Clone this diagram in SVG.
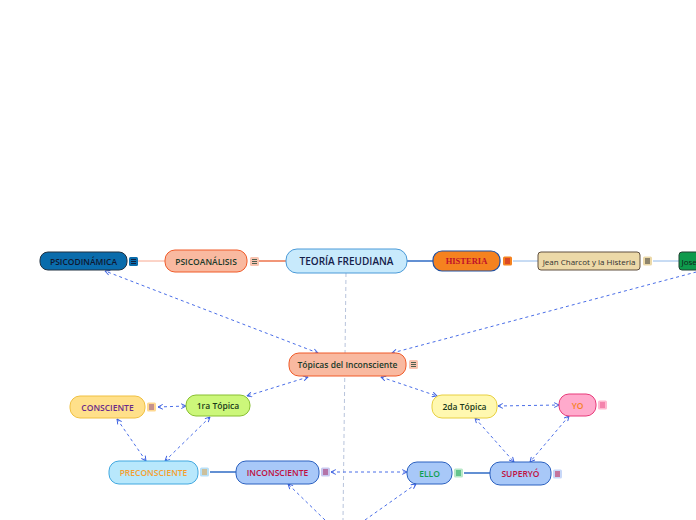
<svg xmlns="http://www.w3.org/2000/svg" width="696" height="520" viewBox="0 0 696 520">
<defs>
<marker id="ar" viewBox="0 0 10 10" refX="9" refY="5" markerWidth="6" markerHeight="6" orient="auto-start-reverse" markerUnits="userSpaceOnUse">
<path d="M1,1 L9,5 L1,9" fill="none" stroke="#3a5ee0" stroke-width="1.6"/>
</marker>
</defs>
<style>
text{font-family:"Open Sans","Noto Sans","Liberation Sans",sans-serif;font-size:8.5px;font-weight:600;text-anchor:middle;dominant-baseline:central}
.dash{fill:none;stroke:#4a6ee8;stroke-width:1;stroke-dasharray:3,3}
.ic line{stroke-width:1}
</style>
<rect width="696" height="520" fill="#ffffff"/>
<g id="connectors">
<line x1="346" y1="273" x2="343" y2="520" stroke="#b8c4dc" stroke-width="1" stroke-dasharray="4,3"/>
<line x1="138" y1="261" x2="165" y2="261" stroke="#f8a890" stroke-width="1"/>
<line x1="259" y1="261" x2="286" y2="261" stroke="#e8501e" stroke-width="1.2"/>
<line x1="407" y1="261" x2="433" y2="261" stroke="#2060c0" stroke-width="1.4"/>
<line x1="513" y1="261" x2="538" y2="261" stroke="#90b8e8" stroke-width="1"/>
<line x1="653" y1="261" x2="679" y2="261" stroke="#90b8e8" stroke-width="1"/>
<line x1="210" y1="472" x2="236" y2="472" stroke="#2060c0" stroke-width="1.4"/>
<line x1="464" y1="473" x2="490" y2="473" stroke="#2060c0" stroke-width="1.4"/>
<line class="dash" x1="318" y1="353" x2="105" y2="271" marker-start="url(#ar)" marker-end="url(#ar)"/>
<line class="dash" x1="392" y1="353" x2="700" y2="271" marker-start="url(#ar)"/>
<line class="dash" x1="308" y1="377" x2="247" y2="396" marker-start="url(#ar)" marker-end="url(#ar)"/>
<line class="dash" x1="381" y1="377" x2="437" y2="396" marker-start="url(#ar)" marker-end="url(#ar)"/>
<line class="dash" x1="158" y1="407" x2="186" y2="406" marker-start="url(#ar)" marker-end="url(#ar)"/>
<line class="dash" x1="498" y1="406" x2="559" y2="405" marker-start="url(#ar)" marker-end="url(#ar)"/>
<line class="dash" x1="117" y1="419" x2="146" y2="461" marker-start="url(#ar)" marker-end="url(#ar)"/>
<line class="dash" x1="210" y1="417" x2="165" y2="461" marker-start="url(#ar)" marker-end="url(#ar)"/>
<line class="dash" x1="475" y1="418" x2="514" y2="462" marker-start="url(#ar)" marker-end="url(#ar)"/>
<line class="dash" x1="569" y1="416" x2="530" y2="462" marker-start="url(#ar)" marker-end="url(#ar)"/>
<line class="dash" x1="331" y1="472" x2="407" y2="472" marker-start="url(#ar)" marker-end="url(#ar)"/>
<line class="dash" x1="325" y1="520" x2="288" y2="484" marker-end="url(#ar)"/>
<line class="dash" x1="365" y1="520" x2="416" y2="484" marker-end="url(#ar)"/>
</g>
<g id="n-psicodinamica">
<rect x="40" y="252" width="87" height="18" rx="8" fill="#0a6cac" stroke="#203040" stroke-width="1"/>
<text x="83.5" y="261" fill="#101830">PSICODINÁMICA</text>
<g class="ic"><rect x="129" y="257" width="9" height="9" rx="1.5" fill="#0a6cac"/><line x1="131" y1="259.5" x2="136" y2="259.5" stroke="#102040"/><line x1="131" y1="261.5" x2="136" y2="261.5" stroke="#102040"/><line x1="131" y1="263.5" x2="136" y2="263.5" stroke="#102040"/></g>
</g>
<g id="n-psicoanalisis">
<rect x="165" y="250" width="82" height="22" rx="10" fill="#f9b9a0" stroke="#f05a28" stroke-width="1"/>
<text x="206" y="261" fill="#1a3a2a">PSICOANÁLISIS</text>
<g class="ic"><rect x="250" y="257" width="9" height="9" rx="1.5" fill="#f9c4b0"/><line x1="252" y1="259.5" x2="257" y2="259.5" stroke="#506050"/><line x1="252" y1="261.5" x2="257" y2="261.5" stroke="#506050"/><line x1="252" y1="263.5" x2="257" y2="263.5" stroke="#506050"/></g>
</g>
<g id="n-teoria">
<rect x="286" y="249" width="121" height="24" rx="11" fill="#c8eafc" stroke="#4a9ad8" stroke-width="1"/>
<text x="346.5" y="261" fill="#14204a" style="font-size:10px">TEORÍA FREUDIANA</text>
</g>
<g id="n-histeria">
<rect x="433" y="251" width="67" height="20" rx="9" fill="#f5821f" stroke="#2050a0" stroke-width="1.2"/>
<text x="466.5" y="261" fill="#c0102a" style="font-family:'Liberation Serif',serif;font-weight:bold">HISTERIA</text>
<g class="ic"><rect x="503" y="256.5" width="9" height="9" rx="1.5" fill="#f5821f"/><line x1="505" y1="259" x2="510" y2="259" stroke="#c0102a"/><line x1="505" y1="261" x2="510" y2="261" stroke="#c0102a"/><line x1="505" y1="263" x2="510" y2="263" stroke="#c0102a"/></g>
</g>
<g id="n-charcot">
<rect x="538" y="252" width="102" height="18" rx="3" fill="#ecd9a8" stroke="#605040" stroke-width="1"/>
<text x="589" y="261" fill="#303030" style="font-weight:normal;font-size:8px">Jean Charcot y la Histeria</text>
<g class="ic"><rect x="643" y="256.5" width="9" height="9" rx="1.5" fill="#ecd9a8"/><line x1="645" y1="259" x2="650" y2="259" stroke="#303030"/><line x1="645" y1="261" x2="650" y2="261" stroke="#303030"/><line x1="645" y1="263" x2="650" y2="263" stroke="#303030"/></g>
</g>
<g id="n-jose">
<rect x="679" y="252" width="40" height="18" rx="3" fill="#0e9a4c" stroke="#204030" stroke-width="1"/>
<text x="681.5" y="261" fill="#102018" style="text-anchor:start;font-weight:normal;font-size:8px">Jose</text>
</g>
<g id="n-topicas">
<rect x="289" y="353" width="117" height="23" rx="10" fill="#f9b9a0" stroke="#f05a28" stroke-width="1"/>
<text x="347.5" y="364.5" fill="#1a3a2a">Tópicas del Inconsciente</text>
<g class="ic"><rect x="409" y="360" width="9" height="9" rx="1.5" fill="#f9c4b0"/><line x1="411" y1="362.5" x2="416" y2="362.5" stroke="#506050"/><line x1="411" y1="364.5" x2="416" y2="364.5" stroke="#506050"/><line x1="411" y1="366.5" x2="416" y2="366.5" stroke="#506050"/></g>
</g>
<g id="n-1ra">
<rect x="186" y="395" width="64" height="21" rx="10" fill="#ccf77a" stroke="#88c030" stroke-width="1"/>
<text x="218" y="405.5" fill="#1a3a1a">1ra Tópica</text>
</g>
<g id="n-consciente">
<rect x="70" y="396" width="75" height="22" rx="10" fill="#ffe08a" stroke="#f0c040" stroke-width="1"/>
<text x="107.5" y="407" fill="#6a2a8a">CONSCIENTE</text>
<g class="ic"><rect x="147" y="402.5" width="9" height="9" rx="1.5" fill="#ffd890"/><line x1="149" y1="405" x2="154" y2="405" stroke="#8a4a8a"/><line x1="149" y1="407" x2="154" y2="407" stroke="#8a4a8a"/><line x1="149" y1="409" x2="154" y2="409" stroke="#8a4a8a"/></g>
</g>
<g id="n-2da">
<rect x="432" y="395" width="65" height="23" rx="10" fill="#fff8b0" stroke="#e8d040" stroke-width="1"/>
<text x="464.5" y="406.5" fill="#1a3a1a">2da Tópica</text>
</g>
<g id="n-yo">
<rect x="559" y="394" width="37" height="22" rx="10" fill="#ffaacc" stroke="#e83a7a" stroke-width="1"/>
<text x="577.5" y="405" fill="#f5821f">YO</text>
<g class="ic"><rect x="598" y="400.5" width="9" height="9" rx="1.5" fill="#ffb8d0"/><line x1="600" y1="403" x2="605" y2="403" stroke="#e8508a"/><line x1="600" y1="405" x2="605" y2="405" stroke="#e8508a"/><line x1="600" y1="407" x2="605" y2="407" stroke="#e8508a"/></g>
</g>
<g id="n-preconsciente">
<rect x="109" y="461" width="89" height="23" rx="10" fill="#b8e8fc" stroke="#40a8e0" stroke-width="1"/>
<text x="153.5" y="472.5" fill="#f5a030">PRECONSCIENTE</text>
<g class="ic"><rect x="200" y="467.5" width="9" height="9" rx="1.5" fill="#b8e0f8"/><line x1="202" y1="470" x2="207" y2="470" stroke="#e0a040"/><line x1="202" y1="472" x2="207" y2="472" stroke="#e0a040"/><line x1="202" y1="474" x2="207" y2="474" stroke="#e0a040"/></g>
</g>
<g id="n-inconsciente">
<rect x="236" y="461" width="83" height="23" rx="10" fill="#a8c8f8" stroke="#2a60c0" stroke-width="1"/>
<text x="277.5" y="472.5" fill="#c01040">INCONSCIENTE</text>
<g class="ic"><rect x="321" y="467.5" width="9" height="9" rx="1.5" fill="#c8c8f0"/><line x1="323" y1="470" x2="328" y2="470" stroke="#a02060"/><line x1="323" y1="472" x2="328" y2="472" stroke="#a02060"/><line x1="323" y1="474" x2="328" y2="474" stroke="#a02060"/></g>
</g>
<g id="n-ello">
<rect x="407" y="462" width="45" height="22" rx="10" fill="#a8c8f8" stroke="#2a60c0" stroke-width="1"/>
<text x="429.5" y="473" fill="#10a050">ELLO</text>
<g class="ic"><rect x="454" y="468.5" width="9" height="9" rx="1.5" fill="#b8e8c8"/><line x1="456" y1="471" x2="461" y2="471" stroke="#10a050"/><line x1="456" y1="473" x2="461" y2="473" stroke="#10a050"/><line x1="456" y1="475" x2="461" y2="475" stroke="#10a050"/></g>
</g>
<g id="n-superyo">
<rect x="490" y="462" width="61" height="23" rx="10" fill="#a8c8f8" stroke="#2a60c0" stroke-width="1"/>
<text x="520.5" y="473.5" fill="#c01040">SUPERYÓ</text>
<g class="ic"><rect x="553" y="469.5" width="9" height="9" rx="1.5" fill="#c8d8f8"/><line x1="555" y1="472" x2="560" y2="472" stroke="#c01040"/><line x1="555" y1="474" x2="560" y2="474" stroke="#c01040"/><line x1="555" y1="476" x2="560" y2="476" stroke="#c01040"/></g>
</g>
</svg>
